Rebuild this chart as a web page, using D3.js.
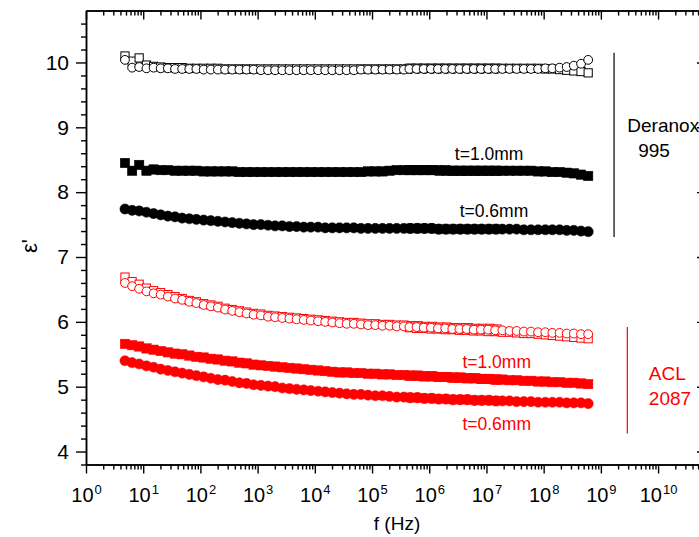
<!DOCTYPE html>
<html>
<head>
<meta charset="utf-8">
<script src="https://cdn.jsdelivr.net/npm/d3@7"></script>
<style>
  html, body { margin: 0; padding: 0; background: #fff; }
  svg { display: block; font-family: "Liberation Sans", Arial, sans-serif; }
</style>
</head>
<body>
<svg id="chart" width="699" height="537"></svg>
<script>
// Frequencies (Hz): low-frequency sweep (53 points) followed by high-frequency sweep (26 points)
const freq = [
  4.8, 6.4, 8.5, 11.4, 15.2, 20.2, 27, 36,
  48, 64, 85, 114, 152, 202, 270, 360,
  480, 640, 850, 1140, 1520, 2020, 2700, 3600,
  4800, 6400, 8500, 11400, 15200, 20200, 27000, 36000,
  48000, 64000, 85000, 114000, 152000, 202000, 270000, 360000,
  480000, 640000, 850000, 1.14e6, 1.52e6, 2.02e6, 2.7e6, 3.6e6,
  4.8e6, 6.4e6, 8.5e6, 1.14e7, 1.52e7,
  // high-frequency sweep
  4.5e5, 6.0e5, 8.0e5, 1.07e6, 1.42e6, 1.9e6, 2.53e6, 3.37e6,
  4.5e6, 6.0e6, 8.0e6, 1.07e7, 1.42e7, 1.9e7, 2.53e7, 3.37e7,
  4.5e7, 6.0e7, 8.0e7, 1.07e8, 1.42e8, 1.9e8, 2.53e8, 3.37e8,
  4.5e8, 6.0e8
];

// Deranox 995 (black)
const deranoxOpenSquare = [
  10.10, 10.02, 10.07, 9.96, 9.94, 9.93, 9.92, 9.92, 9.92, 9.91,
  9.91, 9.91, 9.91, 9.91, 9.90, 9.90, 9.90, 9.90, 9.90, 9.90,
  9.90, 9.90, 9.90, 9.90, 9.90, 9.90, 9.90, 9.90, 9.90, 9.90,
  9.90, 9.90, 9.90, 9.90, 9.90, 9.90, 9.90, 9.90, 9.90, 9.90,
  9.91, 9.91, 9.91, 9.91, 9.91, 9.91, 9.91, 9.91, 9.91, 9.91,
  9.91, 9.91, 9.91,
  9.91, 9.91, 9.91, 9.91, 9.91, 9.91, 9.91, 9.91, 9.91, 9.91,
  9.91, 9.91, 9.91, 9.91, 9.91, 9.91, 9.91, 9.91, 9.91, 9.90,
  9.90, 9.89, 9.88, 9.87, 9.86, 9.84
];
const deranoxOpenCircle = [
  10.04, 9.92, 9.93, 9.91, 9.92, 9.91, 9.91, 9.90, 9.90, 9.90,
  9.90, 9.89, 9.89, 9.89, 9.89, 9.89, 9.89, 9.89, 9.89, 9.88,
  9.88, 9.88, 9.88, 9.88, 9.88, 9.88, 9.88, 9.88, 9.88, 9.88,
  9.88, 9.88, 9.88, 9.89, 9.89, 9.89, 9.89, 9.89, 9.89, 9.89,
  9.90, 9.90, 9.90, 9.90, 9.90, 9.90, 9.90, 9.90, 9.90, 9.90,
  9.90, 9.90, 9.90,
  9.90, 9.90, 9.90, 9.90, 9.90, 9.90, 9.90, 9.90, 9.90, 9.90,
  9.90, 9.90, 9.90, 9.90, 9.90, 9.90, 9.90, 9.90, 9.90, 9.91,
  9.91, 9.92, 9.93, 9.95, 9.98, 10.04
];
const deranoxSquare = [
  8.45, 8.33, 8.42, 8.33, 8.35, 8.34, 8.34, 8.33, 8.33, 8.33,
  8.33, 8.32, 8.32, 8.32, 8.32, 8.32, 8.31, 8.31, 8.31, 8.31,
  8.31, 8.31, 8.31, 8.31, 8.31, 8.31, 8.31, 8.31, 8.31, 8.31,
  8.31, 8.31, 8.31, 8.31, 8.32, 8.32, 8.32, 8.33, 8.34, 8.34,
  8.34, 8.34, 8.34, 8.34, 8.33, 8.33, 8.33, 8.33, 8.33, 8.33,
  8.33, 8.33, 8.33,
  8.34, 8.34, 8.34, 8.34, 8.34, 8.34, 8.33, 8.33, 8.33, 8.33,
  8.33, 8.33, 8.33, 8.33, 8.33, 8.33, 8.33, 8.33, 8.32, 8.32,
  8.31, 8.31, 8.30, 8.29, 8.27, 8.25
];
const deranoxCircle = [
  7.74, 7.72, 7.71, 7.69, 7.67, 7.65, 7.63, 7.62, 7.60, 7.59,
  7.58, 7.57, 7.56, 7.55, 7.54, 7.53, 7.52, 7.51, 7.50, 7.50,
  7.49, 7.48, 7.48, 7.47, 7.47, 7.46, 7.46, 7.46, 7.45, 7.45,
  7.45, 7.45, 7.45, 7.44, 7.44, 7.44, 7.44, 7.44, 7.44, 7.44,
  7.44, 7.44, 7.44, 7.44, 7.43, 7.43, 7.43, 7.43, 7.43, 7.43,
  7.43, 7.43, 7.43,
  7.44, 7.44, 7.44, 7.44, 7.43, 7.43, 7.43, 7.43, 7.43, 7.43,
  7.43, 7.43, 7.43, 7.43, 7.43, 7.43, 7.42, 7.42, 7.42, 7.42,
  7.42, 7.42, 7.41, 7.41, 7.40, 7.39
];

// ACL 2087 (red)
const aclOpenSquare = [
  6.69, 6.62, 6.58, 6.52, 6.48, 6.45, 6.42, 6.39, 6.36, 6.33,
  6.31, 6.28, 6.26, 6.24, 6.21, 6.19, 6.17, 6.15, 6.13, 6.12,
  6.10, 6.09, 6.08, 6.07, 6.06, 6.05, 6.04, 6.03, 6.02, 6.01,
  6.00, 5.99, 5.99, 5.98, 5.97, 5.97, 5.96, 5.96, 5.95, 5.95,
  5.94, 5.94, 5.93, 5.93, 5.92, 5.92, 5.91, 5.91, 5.91, 5.90,
  5.90, 5.90, 5.89,
  5.91, 5.90, 5.90, 5.89, 5.89, 5.88, 5.88, 5.87, 5.87, 5.86,
  5.86, 5.85, 5.85, 5.84, 5.84, 5.83, 5.82, 5.82, 5.81, 5.80,
  5.79, 5.78, 5.77, 5.76, 5.75, 5.74
];
const aclOpenCircle = [
  6.60, 6.55, 6.51, 6.47, 6.44, 6.42, 6.39, 6.36, 6.34, 6.31,
  6.29, 6.26, 6.24, 6.22, 6.19, 6.17, 6.15, 6.13, 6.11, 6.10,
  6.08, 6.07, 6.06, 6.05, 6.04, 6.03, 6.02, 6.01, 6.00, 5.99,
  5.98, 5.97, 5.97, 5.96, 5.95, 5.95, 5.94, 5.94, 5.93, 5.93,
  5.92, 5.92, 5.91, 5.91, 5.90, 5.90, 5.89, 5.89, 5.89, 5.88,
  5.88, 5.88, 5.87,
  5.92, 5.92, 5.91, 5.91, 5.90, 5.90, 5.89, 5.89, 5.89, 5.88,
  5.88, 5.88, 5.87, 5.87, 5.86, 5.86, 5.85, 5.85, 5.84, 5.84,
  5.83, 5.83, 5.82, 5.82, 5.81, 5.81
];
const aclSquare = [
  5.66, 5.64, 5.62, 5.59, 5.57, 5.55, 5.53, 5.51, 5.50, 5.48,
  5.46, 5.45, 5.43, 5.42, 5.40, 5.39, 5.37, 5.36, 5.34, 5.33,
  5.32, 5.31, 5.30, 5.29, 5.28, 5.27, 5.26, 5.25, 5.24, 5.23,
  5.22, 5.22, 5.21, 5.21, 5.20, 5.20, 5.19, 5.19, 5.18, 5.18,
  5.17, 5.17, 5.16, 5.16, 5.15, 5.15, 5.14, 5.14, 5.13, 5.13,
  5.12, 5.12, 5.11,
  5.17, 5.17, 5.16, 5.16, 5.15, 5.15, 5.14, 5.14, 5.13, 5.13,
  5.12, 5.12, 5.11, 5.11, 5.10, 5.10, 5.09, 5.09, 5.08, 5.08,
  5.07, 5.07, 5.06, 5.06, 5.05, 5.04
];
const aclCircle = [
  5.40, 5.37, 5.35, 5.32, 5.30, 5.27, 5.25, 5.23, 5.21, 5.19,
  5.17, 5.15, 5.13, 5.11, 5.10, 5.08, 5.06, 5.05, 5.03, 5.02,
  5.01, 5.00, 4.98, 4.97, 4.96, 4.95, 4.94, 4.93, 4.92, 4.91,
  4.90, 4.89, 4.88, 4.88, 4.87, 4.86, 4.86, 4.85, 4.84, 4.84,
  4.83, 4.83, 4.82, 4.82, 4.81, 4.81, 4.80, 4.80, 4.80, 4.79,
  4.79, 4.79, 4.78,
  4.83, 4.83, 4.82, 4.82, 4.81, 4.81, 4.80, 4.80, 4.80, 4.79,
  4.79, 4.79, 4.78, 4.78, 4.78, 4.77, 4.77, 4.77, 4.76, 4.76,
  4.76, 4.76, 4.75, 4.75, 4.75, 4.74
];

// Axis ticks
const xMajorTicks = [1, 1e1, 1e2, 1e3, 1e4, 1e5, 1e6, 1e7, 1e8, 1e9, 1e10];
const yMajorTicks = [4, 5, 6, 7, 8, 9, 10];
const yMinorTicks = [3.8, 4.2, 4.4, 4.6, 4.8, 5.2, 5.4, 5.6, 5.8, 6.2, 6.4, 6.6, 6.8,
  7.2, 7.4, 7.6, 7.8, 8.2, 8.4, 8.6, 8.8, 9.2, 9.4, 9.6, 9.8, 10.2, 10.4, 10.6];

const svg = d3.select("#chart");
const x = d3.scaleLog().domain([1, 6.1e10]).range([86, 703]);
const y = d3.scaleLinear().domain([3.8, 10.8]).range([464.5, 10.6]);

const xMinorTicks = [];
xMajorTicks.forEach(m => { for (let k = 2; k <= 9; k++) { const v = m * k; if (v < x.domain()[1]) xMinorTicks.push(v); } });

const plotTop = y.range()[1], plotBottom = y.range()[0], plotLeft = x.range()[0], plotRight = x.range()[1];

function styleAxis(g) {
  g.selectAll("path").attr("stroke", "#000").attr("stroke-width", 1.5);
  g.selectAll("line").attr("stroke", "#000").attr("stroke-width", 1.4);
}

// bottom axis minor + major
svg.append("g").attr("transform", `translate(0,${plotBottom})`)
  .call(d3.axisBottom(x).tickValues(xMinorTicks).tickSize(5).tickSizeOuter(0).tickFormat(""))
  .call(styleAxis);
const xb = svg.append("g").attr("transform", `translate(0,${plotBottom})`)
  .call(d3.axisBottom(x).tickValues(xMajorTicks).tickSize(9).tickSizeOuter(0).tickFormat(""))
  .call(styleAxis);
xb.selectAll(".tick text").each(function(d) {
  const t = d3.select(this);
  t.attr("y", 23).attr("dy", "0.71em").attr("fill", "#000")
    .attr("font-size", "20px").attr("text-anchor", "middle").text(null);
  t.append("tspan").text("10");
  t.append("tspan").attr("dy", "-0.6em").attr("dx", "1").attr("font-size", "13px").text(Math.round(Math.log10(d)));
});

// top axis (inward ticks)
svg.append("g").attr("transform", `translate(0,${plotTop})`)
  .call(d3.axisTop(x).tickValues(xMinorTicks).tickSize(-5).tickSizeOuter(0).tickFormat(""))
  .call(styleAxis);
svg.append("g").attr("transform", `translate(0,${plotTop})`)
  .call(d3.axisTop(x).tickValues(xMajorTicks).tickSize(-9).tickSizeOuter(0).tickFormat(""))
  .call(styleAxis);

// left axis
svg.append("g").attr("transform", `translate(${plotLeft},0)`)
  .call(d3.axisLeft(y).tickValues(yMinorTicks).tickSize(5).tickSizeOuter(0).tickFormat(""))
  .call(styleAxis);
const yl = svg.append("g").attr("transform", `translate(${plotLeft},0)`)
  .call(d3.axisLeft(y).tickValues(yMajorTicks).tickSize(10).tickSizeOuter(0).tickPadding(7).tickFormat(d3.format("d")))
  .call(styleAxis);
yl.selectAll(".tick text").attr("font-size", "21px").attr("fill", "#000").attr("font-family", "Liberation Sans, Arial, sans-serif");

// right axis (inward)
svg.append("g").attr("transform", `translate(${plotRight},0)`)
  .call(d3.axisRight(y).tickValues(yMinorTicks).tickSize(-3).tickSizeOuter(0).tickFormat(""))
  .call(styleAxis);
svg.append("g").attr("transform", `translate(${plotRight},0)`)
  .call(d3.axisRight(y).tickValues(yMajorTicks).tickSize(-6).tickSizeOuter(0).tickFormat(""))
  .call(styleAxis);

// axis titles
svg.append("text").attr("x", 397).attr("y", 530).attr("text-anchor", "middle")
  .attr("font-size", "19px").attr("fill", "#000").text("f (Hz)");
svg.append("text").attr("transform", "translate(37,246) rotate(-90)").attr("text-anchor", "middle")
  .attr("font-size", "22px").attr("fill", "#000").text("ε'");

// data
const series = [
  { vals: deranoxOpenSquare, shape: "square", filled: false, color: "#000" },
  { vals: deranoxOpenCircle, shape: "circle", filled: false, color: "#000" },
  { vals: deranoxSquare, shape: "square", filled: true, color: "#000" },
  { vals: deranoxCircle, shape: "circle", filled: true, color: "#000" },
  { vals: aclOpenSquare, shape: "square", filled: false, color: "#ff0000" },
  { vals: aclOpenCircle, shape: "circle", filled: false, color: "#ff0000" },
  { vals: aclSquare, shape: "square", filled: true, color: "#ff0000" },
  { vals: aclCircle, shape: "circle", filled: true, color: "#ff0000" }
];

const dataG = svg.append("g");
series.forEach(s => {
  const pts = freq.map((f, i) => ({ f, v: s.vals[i] }));
  const g = dataG.append("g");
  if (s.shape === "circle") {
    g.selectAll("circle").data(pts).join("circle")
      .attr("cx", d => x(d.f)).attr("cy", d => y(d.v))
      .attr("r", s.filled ? 5.1 : 4.4)
      .attr("fill", s.filled ? s.color : "#fff")
      .attr("stroke", s.color).attr("stroke-width", s.filled ? 0.5 : 1);
  } else {
    const side = s.filled ? 9.4 : 8.2;
    g.selectAll("rect").data(pts).join("rect")
      .attr("x", d => x(d.f) - side / 2).attr("y", d => y(d.v) - side / 2)
      .attr("width", side).attr("height", side)
      .attr("fill", s.filled ? s.color : "#fff")
      .attr("stroke", s.color).attr("stroke-width", s.filled ? 0.5 : 1);
  }
});

// annotations (positioned in data coordinates)
function label(f, v, txt, color, size) {
  svg.append("text").attr("x", x(f)).attr("y", y(v)).attr("font-size", size + "px")
    .attr("fill", color).text(txt);
}
label(2.8e6, 8.50, "t=1.0mm", "#000", 17.5);
label(3.4e6, 7.62, "t=0.6mm", "#000", 17.5);
label(3.8e6, 5.29, "t=1.0mm", "#ff0000", 17.5);
label(3.8e6, 4.33, "t=0.6mm", "#ff0000", 17.5);
label(2.9e9, 8.93, "Deranox", "#000", 19);
label(4.5e9, 8.54, "995", "#000", 19);
label(6.9e9, 5.10, "ACL", "#ff0000", 19);
label(6.9e9, 4.72, "2087", "#ff0000", 19);

svg.append("line").attr("x1", x(1.7e9)).attr("x2", x(1.7e9))
  .attr("y1", y(10.15)).attr("y2", y(7.31)).attr("stroke", "#000").attr("stroke-width", 1.2);
svg.append("line").attr("x1", x(2.9e9)).attr("x2", x(2.9e9))
  .attr("y1", y(5.92)).attr("y2", y(4.28)).attr("stroke", "#ff0000").attr("stroke-width", 1.2);
</script>
</body>
</html>
